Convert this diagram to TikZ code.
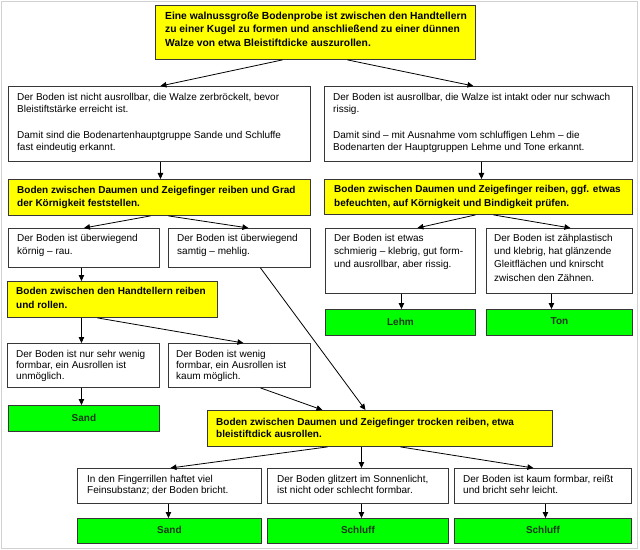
\documentclass[tikz,border=0pt]{standalone}
\usepackage{fontspec}
\setmainfont{Liberation Sans}
\usetikzlibrary{arrows.meta}
\definecolor{yel}{RGB}{255,255,0}
\definecolor{grn}{RGB}{0,255,0}
\definecolor{bord}{RGB}{55,55,55}
\definecolor{gtext}{RGB}{25,55,25}
\newcommand{\st}{\rule{0pt}{8bp}}
\begin{document}
\begin{tikzpicture}[x=1bp,y=-1bp,
  wbox/.style={draw=bord, line width=0.9bp, fill=white, anchor=north west, inner sep=0pt},
  ybox/.style={wbox, fill=yel},
  gbox/.style={wbox, fill=grn},
  txt/.style={anchor=north west, inner sep=0pt, align=left, font={\fontsize{10bp}{12bp}\selectfont}},
  txtb/.style={anchor=north west, inner sep=0pt, align=left, font={\fontsize{10bp}{13bp}\selectfont\bfseries}},
  glab/.style={inner sep=0pt, text=gtext, font={\fontsize{10bp}{12bp}\selectfont\bfseries}},
  arr/.style={draw=black, line width=0.8bp, -{Triangle[length=6bp,width=5.5bp]}}
]
\useasboundingbox (0,0) rectangle (640,550);
\fill[white] (0,0) rectangle (640,550);
\draw[black!18, line width=1bp] (1.5,1.5) rectangle (637.5,548.5);

% boxes
\node[ybox, minimum width=320bp, minimum height=54bp] (top) at (155,5) {};
\node[wbox, minimum width=302bp, minimum height=75bp] (l1) at (8,86) {};
\node[wbox, minimum width=308bp, minimum height=75bp] (r1) at (324,86) {};
\node[ybox, minimum width=302bp, minimum height=36bp] (y2l) at (8,179) {};
\node[ybox, minimum width=308bp, minimum height=35bp] (y2r) at (324,179) {};
\node[wbox, minimum width=151bp, minimum height=39bp] (l3a) at (8,228) {};
\node[wbox, minimum width=142bp, minimum height=39bp] (l3b) at (168,228) {};
\node[wbox, minimum width=150bp, minimum height=65bp] (r3a) at (325,228) {};
\node[wbox, minimum width=146bp, minimum height=65bp] (r3b) at (486,228) {};
\node[gbox, minimum width=150bp, minimum height=26bp] (lehm) at (325,309) {};
\node[gbox, minimum width=146bp, minimum height=26bp] (ton) at (486,309) {};
\node[ybox, minimum width=210bp, minimum height=36bp] (y4l) at (7,281) {};
\node[wbox, minimum width=152bp, minimum height=44bp] (l5a) at (7,343) {};
\node[wbox, minimum width=142bp, minimum height=44bp] (l5b) at (168,343) {};
\node[gbox, minimum width=151bp, minimum height=26bp] (sand1) at (8,405) {};
\node[ybox, minimum width=345bp, minimum height=36bp] (y5) at (207,410) {};
\node[wbox, minimum width=184bp, minimum height=35bp] (b1) at (77,468) {};
\node[wbox, minimum width=181bp, minimum height=35bp] (b2) at (267,468) {};
\node[wbox, minimum width=177bp, minimum height=35bp] (b3) at (454,468) {};
\node[gbox, minimum width=184bp, minimum height=25bp] (g1) at (77,518) {};
\node[gbox, minimum width=181bp, minimum height=25bp] (g2) at (267,518) {};
\node[gbox, minimum width=177bp, minimum height=25bp] (g3) at (454,518) {};

% texts
\node[txtb, font={\fontsize{10.3bp}{13.5bp}\selectfont\bfseries}] (topt) at (165,11) {\st Eine walnussgroße Bodenprobe ist zwischen den Handtellern\\zu einer Kugel zu formen und anschließend zu einer dünnen\\Walze von etwa Bleistiftdicke auszurollen.};
\node[txt] (l1t) at (17,92) {\st Der Boden ist nicht ausrollbar, die Walze zerbröckelt, bevor\\Bleistiftstärke erreicht ist.\\[14bp]Damit sind die Bodenartenhauptgruppe Sande und Schluffe\\fast eindeutig erkannt.};
\node[txt] (r1t) at (333,92) {\st Der Boden ist ausrollbar, die Walze ist intakt oder nur schwach\\rissig.\\[14bp]Damit sind – mit Ausnahme vom schluffigen Lehm – die\\Bodenarten der Hauptgruppen Lehme und Tone erkannt.};
\node[txtb] (y2lt) at (17,185) {\st Boden zwischen Daumen und Zeigefinger reiben und Grad\\der Körnigkeit feststellen.};
\node[txtb, font={\fontsize{10bp}{14bp}\selectfont\bfseries}] (y2rt) at (334,184) {\st Boden zwischen Daumen und Zeigefinger reiben, ggf. etwas\\befeuchten, auf Körnigkeit und Bindigkeit prüfen.};
\node[txt, font={\fontsize{10bp}{13.5bp}\selectfont}] (l3at) at (17,233) {\st Der Boden ist überwiegend\\körnig – rau.};
\node[txt, font={\fontsize{10bp}{13.5bp}\selectfont}] (l3bt) at (177,233) {\st Der Boden ist überwiegend\\samtig – mehlig.};
\node[txt, font={\fontsize{10bp}{13.3bp}\selectfont}] (r3at) at (334,233) {\st Der Boden ist etwas\\schmierig – klebrig, gut form-\\und ausrollbar, aber rissig.};
\node[txt, font={\fontsize{10bp}{13.3bp}\selectfont}] (r3bt) at (494,233) {\st Der Boden ist zähplastisch\\und klebrig, hat glänzende\\Gleitflächen und knirscht\\zwischen den Zähnen.};
\node[txtb, font={\fontsize{10bp}{14bp}\selectfont\bfseries}] (y4lt) at (16,286) {\st Boden zwischen den Handtellern reiben\\und rollen.};
\node[txt, font={\fontsize{10bp}{11bp}\selectfont}] (l5at) at (16,349) {\st Der Boden ist nur sehr wenig\\formbar, ein Ausrollen ist\\unmöglich.};
\node[txt, font={\fontsize{10bp}{11bp}\selectfont}] (l5bt) at (176,349) {\st Der Boden ist wenig\\formbar, ein Ausrollen ist\\kaum möglich.};
\node[txtb, font={\fontsize{10bp}{12.5bp}\selectfont\bfseries}] (y5t) at (216,417) {\st Boden zwischen Daumen und Zeigefinger trocken reiben, etwa\\bleistiftdick ausrollen.};
\node[txt, font={\fontsize{10bp}{11.5bp}\selectfont}] (b1t) at (87,474) {\st In den Fingerrillen haftet viel\\Feinsubstanz; der Boden bricht.};
\node[txt, font={\fontsize{10bp}{11.5bp}\selectfont}] (b2t) at (277,474) {\st Der Boden glitzert im Sonnenlicht,\\ist nicht oder schlecht formbar.};
\node[txt, font={\fontsize{10bp}{11.5bp}\selectfont}] (b3t) at (463,474) {\st Der Boden ist kaum formbar, reißt\\und bricht sehr leicht.};

% green labels
\node[glab] (lehmt) at ([yshift=1bp]lehm.center) {Lehm};
\node[glab] (tont) at ([yshift=1bp]ton.center) {Ton};
\node[glab] (sand1t) at ([yshift=1bp]sand1.center) {Sand};
\node[glab] (g1t) at ([yshift=1bp]g1.center) {Sand};
\node[glab] (g2t) at ([yshift=1bp]g2.center) {Schluff};
\node[glab] (g3t) at ([yshift=1bp]g3.center) {Schluff};

% connectors
\draw[arr] ([xshift=-33bp]top.south) -- ([xshift=1bp]l1.north);
\draw[arr] ([xshift=32bp]top.south) -- ([xshift=-5bp]r1.north);
\draw[arr] ([xshift=1bp]l1.south) -- ([xshift=1bp]y2l.north);
\draw[arr] ([xshift=3bp]r1.south) -- ([xshift=3bp]y2r.north);
\draw[arr] ([xshift=-9bp]y2l.south) -- (l3a.north);
\draw[arr] ([xshift=9bp]y2l.south) -- ([xshift=9bp]l3b.north);
\draw[arr] ([xshift=-3bp]y2r.south) -- ([xshift=17bp]r3a.north);
\draw[arr] ([xshift=15bp]y2r.south) -- ([xshift=11bp]r3b.north);
\draw[arr] ([xshift=-2.5bp]l3a.south) -- ([xshift=-31bp]y4l.north);
\draw[arr] ([xshift=21bp]l3b.south) -- ([xshift=-14.5bp]y5.north);
\draw[arr] ([xshift=1bp]r3a.south) -- ([xshift=1bp]lehm.north);
\draw[arr] ([xshift=-8bp]r3b.south) -- ([xshift=-8bp]ton.north);
\draw[arr] ([xshift=-31bp]y4l.south) -- ([xshift=-2bp]l5a.north);
\draw[arr] ([xshift=-15bp]y4l.south) -- ([xshift=4bp]l5b.north);
\draw[arr] ([xshift=-2bp]l5a.south) -- ([xshift=-2.5bp]sand1.north);
\draw[arr] ([xshift=21bp]l5b.south) -- ([xshift=-57.5bp]y5.north);
\draw[arr] ([xshift=-52.5bp]y5.south) -- ([xshift=1bp]b1.north);
\draw[arr] ([xshift=-18.5bp]y5.south) -- ([xshift=3.5bp]b2.north);
\draw[arr] ([xshift=20.5bp]y5.south) -- ([xshift=-9.5bp]b3.north);
\draw[arr] ([xshift=-1bp]b1.south) -- ([xshift=-1bp]g1.north);
\draw[arr] ([xshift=3.5bp]b2.south) -- ([xshift=3.5bp]g2.north);
\draw[arr] ([xshift=2.5bp]b3.south) -- ([xshift=2.5bp]g3.north);
\end{tikzpicture}
\end{document}
